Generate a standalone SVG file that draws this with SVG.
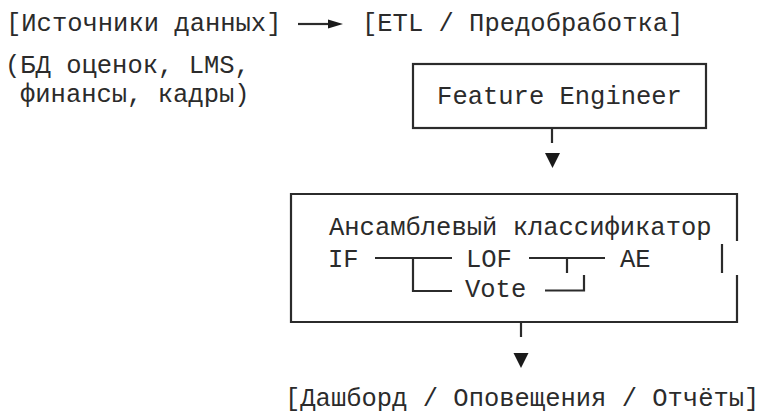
<svg xmlns="http://www.w3.org/2000/svg" width="758" height="414" viewBox="0 0 758 414">
  <style>
    .t { font-family: "Liberation Mono", "DejaVu Sans Mono", monospace; font-size: 25.5px; fill: #2b2b2b; }
    .box { fill: none; stroke: #2b2b2b; stroke-width: 2.2; }
    .ln { fill: none; stroke: #2b2b2b; stroke-width: 2.2; }
    .head { fill: #1a1a1a; }
  </style>
  <rect width="758" height="414" fill="#ffffff"/>

  <!-- data sources -->
  <g id="sources">
    <text class="t" x="6" y="31">[Источники данных]</text>
    <text class="t" x="5" y="73">(БД оценок, LMS,</text>
    <text class="t" x="20" y="102">финансы, кадры)</text>
  </g>

  <!-- ETL step -->
  <g id="etl">
    <text class="t" x="362" y="31">[ETL / Предобработка]</text>
  </g>

  <!-- feature engineering -->
  <g id="feature-engineer">
    <rect class="box" x="413" y="64" width="293" height="64"/>
    <text class="t" x="559.5" y="103.5" text-anchor="middle">Feature Engineer</text>
  </g>

  <!-- ensemble classifier with its inner scheme -->
  <g id="ensemble">
    <path class="box" d="M737 241 V194 H291 V322 H737 V275"/>
    <line class="ln" x1="722" y1="244" x2="722" y2="273"/>
    <text class="t" x="329" y="234.5">Ансамблевый классификатор</text>
    <text class="t" x="328" y="266.5">IF</text>
    <text class="t" x="466" y="266.5">LOF</text>
    <text class="t" x="620" y="266.5">AE</text>
    <text class="t" x="465" y="297">Vote</text>
    <path class="ln" d="M375 258 H452 M413 258 V291 H452"/>
    <path class="ln" d="M529 258 H605 M567 258 V273"/>
    <path class="ln" d="M545 290.5 H584 V275"/>
  </g>

  <!-- outputs -->
  <g id="outputs">
    <text class="t" x="285" y="406">[Дашборд / Оповещения / Отчёты]</text>
  </g>

  <!-- connectors -->
  <g id="connectors">
    <line class="ln" x1="298" y1="24" x2="330" y2="24"/>
    <polygon class="head" points="328,19.5 343,24 328,28.5"/>
    <line class="ln" x1="552" y1="128" x2="552" y2="143"/>
    <polygon class="head" points="545,153 560,153 552.5,168"/>
    <line class="ln" x1="521" y1="322" x2="521" y2="337"/>
    <polygon class="head" points="513.5,353 528.5,353 521,368"/>
  </g>
</svg>
